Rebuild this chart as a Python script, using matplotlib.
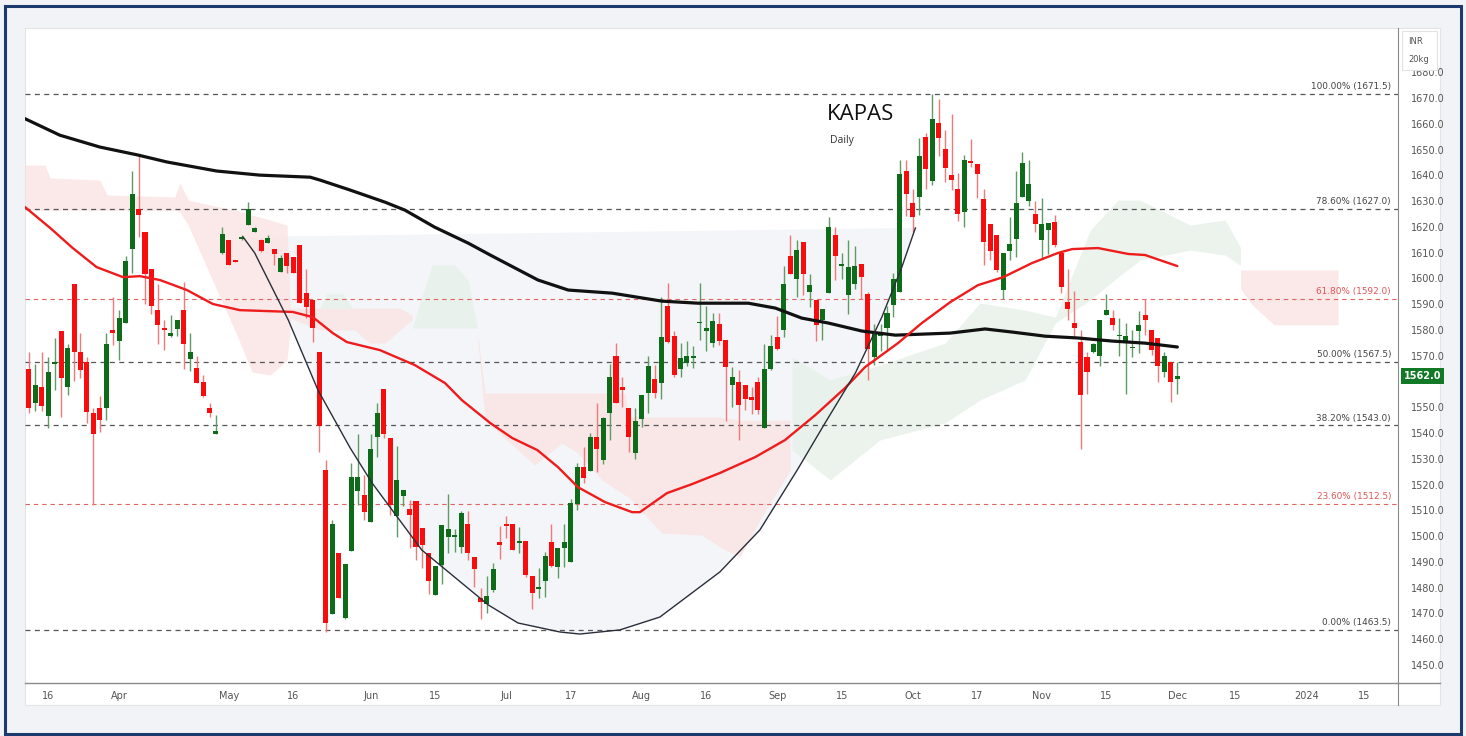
import numpy as np
import matplotlib
matplotlib.use("Agg")
import matplotlib.pyplot as plt
from matplotlib.patches import Rectangle
from matplotlib.lines import Line2D

# ---------------- data ----------------
opens = [1564.7, 1551.5, 1557.7, 1546.7, 1566.9, 1579.8, 1557.7, 1598.0, 1571.6, 1567.4,
         1547.7, 1549.9, 1549.8, 1579.9, 1575.8, 1582.6, 1611.6, 1626.9, 1618.0, 1603.7,
         1587.7, 1580.6, 1577.6, 1580.2, 1587.7, 1568.9, 1565.3, 1559.9, 1549.9, 1539.8,
         1609.7, 1614.9, 1607.0, 1615.5, 1620.8, 1618.0, 1614.9, 1613.9, 1611.3, 1602.6,
         1609.7, 1608.2, 1612.9, 1594.4, 1591.6, 1571.5, 1525.6, 1469.6, 1493.3, 1468.4,
         1494.2, 1517.5, 1515.9, 1505.6, 1538.5, 1557.2, 1537.9, 1507.7, 1515.5, 1510.7,
         1513.6, 1503.0, 1493.5, 1477.3, 1488.7, 1499.7, 1499.7, 1495.6, 1504.9, 1492.0,
         1475.8, 1473.8, 1479.1, 1497.6, 1504.9, 1504.9, 1497.4, 1498.2, 1484.6, 1479.4,
         1482.7, 1497.6, 1487.9, 1495.5, 1490.1, 1512.4, 1526.9, 1525.4, 1538.6, 1529.5,
         1547.6, 1569.9, 1557.7, 1549.8, 1532.4, 1545.3, 1555.7, 1560.8, 1559.3, 1589.3,
         1577.7, 1564.7, 1567.1, 1569.2, 1582.6, 1579.7, 1574.8, 1582.3, 1576.0, 1558.6,
         1559.9, 1558.6, 1554.0, 1559.9, 1541.8, 1564.7, 1577.3, 1579.9, 1608.8, 1599.6,
         1614.2, 1594.8, 1591.8, 1583.8, 1594.4, 1616.8, 1604.8, 1593.5, 1598.0, 1605.8,
         1593.8, 1569.6, 1577.6, 1580.6, 1589.6, 1594.8, 1641.8, 1629.4, 1631.7, 1655.0,
         1637.9, 1660.4, 1650.1, 1640.1, 1634.9, 1625.6, 1645.7, 1644.6, 1631.0, 1621.3,
         1616.8, 1595.7, 1610.7, 1615.5, 1631.7, 1630.0, 1625.0, 1614.9, 1618.7, 1622.0,
         1609.7, 1590.7, 1582.8, 1575.4, 1569.6, 1571.5, 1570.0, 1585.8, 1584.8, 1577.6,
         1575.4, 1572.9, 1579.7, 1585.8, 1579.9, 1576.7, 1563.8, 1567.6, 1561.0]
highs = [1571.5, 1566.7, 1571.5, 1569.6, 1576.7, 1579.8, 1574.4, 1598.0, 1578.9, 1569.6,
         1549.8, 1554.3, 1578.9, 1592.9, 1587.7, 1608.7, 1641.8, 1647.9, 1618.0, 1603.7,
         1598.0, 1583.8, 1586.0, 1583.8, 1598.7, 1578.9, 1569.8, 1562.5, 1551.8, 1546.9,
         1619.8, 1614.9, 1607.3, 1616.7, 1629.5, 1619.8, 1615.5, 1616.8, 1611.3, 1609.1,
         1610.0, 1608.5, 1612.9, 1603.5, 1591.6, 1571.5, 1529.7, 1506.2, 1493.3, 1489.3,
         1528.2, 1539.8, 1523.7, 1539.8, 1551.7, 1557.2, 1537.9, 1534.9, 1517.8, 1513.9,
         1513.6, 1503.0, 1493.5, 1488.5, 1504.5, 1516.5, 1502.6, 1509.8, 1509.8, 1492.0,
         1479.7, 1484.5, 1489.4, 1504.0, 1507.8, 1504.9, 1503.6, 1498.2, 1484.6, 1487.5,
         1493.9, 1504.9, 1495.2, 1504.9, 1514.6, 1528.2, 1534.7, 1539.9, 1551.8, 1546.4,
         1566.8, 1574.8, 1561.9, 1549.8, 1549.8, 1554.8, 1569.9, 1566.4, 1592.9, 1598.1,
         1579.7, 1574.8, 1575.8, 1573.8, 1598.1, 1589.3, 1586.5, 1586.7, 1576.0, 1565.7,
         1564.4, 1558.6, 1557.9, 1561.8, 1574.5, 1578.0, 1585.5, 1604.9, 1616.8, 1614.9,
         1614.2, 1601.9, 1591.8, 1588.3, 1623.9, 1620.0, 1609.7, 1614.9, 1612.5, 1605.8,
         1594.8, 1582.5, 1582.5, 1589.2, 1602.2, 1645.9, 1645.9, 1634.8, 1654.7, 1656.3,
         1671.5, 1669.5, 1657.8, 1664.0, 1641.0, 1647.9, 1654.0, 1644.6, 1634.9, 1621.3,
         1616.8, 1609.7, 1623.9, 1641.7, 1649.0, 1645.9, 1630.0, 1631.3, 1621.7, 1624.6,
         1610.3, 1603.6, 1595.1, 1579.9, 1571.3, 1575.0, 1583.8, 1593.9, 1587.7, 1584.5,
         1582.8, 1579.9, 1587.4, 1592.1, 1579.9, 1576.7, 1571.5, 1567.6, 1567.6]
lows = [1547.9, 1548.5, 1548.5, 1542.1, 1556.9, 1546.3, 1554.9, 1560.1, 1561.5, 1544.0,
        1512.0, 1540.5, 1545.0, 1574.1, 1568.5, 1582.6, 1602.1, 1616.2, 1590.0, 1586.1,
        1574.7, 1572.4, 1577.3, 1577.7, 1565.0, 1564.1, 1559.6, 1554.0, 1546.3, 1539.8,
        1609.4, 1605.2, 1606.3, 1615.1, 1620.8, 1618.0, 1610.4, 1613.9, 1605.2, 1602.6,
        1602.2, 1602.0, 1590.6, 1584.5, 1575.4, 1532.5, 1462.9, 1469.6, 1475.8, 1468.0,
        1494.2, 1512.0, 1506.2, 1505.6, 1530.8, 1537.9, 1508.1, 1499.7, 1511.6, 1495.2,
        1490.7, 1487.7, 1477.7, 1477.3, 1481.6, 1493.3, 1493.9, 1493.3, 1490.7, 1480.1,
        1468.0, 1470.0, 1478.4, 1491.0, 1499.1, 1494.6, 1493.6, 1484.2, 1471.9, 1475.8,
        1476.2, 1487.9, 1483.8, 1487.9, 1490.1, 1510.1, 1520.5, 1525.4, 1525.0, 1528.0,
        1537.5, 1551.5, 1550.2, 1532.8, 1529.8, 1542.5, 1547.9, 1553.5, 1553.1, 1574.8,
        1561.9, 1561.9, 1566.0, 1565.1, 1576.1, 1572.0, 1573.5, 1574.0, 1544.7, 1550.2,
        1537.5, 1548.9, 1547.3, 1547.3, 1541.8, 1564.4, 1572.2, 1577.1, 1601.7, 1592.9,
        1593.5, 1589.0, 1575.8, 1576.0, 1594.4, 1599.3, 1599.6, 1586.1, 1596.1, 1592.2,
        1560.5, 1566.3, 1571.9, 1572.2, 1585.1, 1594.8, 1624.3, 1618.1, 1624.6, 1634.9,
        1636.2, 1647.5, 1637.5, 1634.3, 1622.4, 1620.0, 1643.1, 1631.4, 1605.2, 1607.1,
        1602.6, 1592.2, 1607.1, 1608.4, 1631.7, 1628.1, 1618.1, 1607.8, 1609.3, 1612.3,
        1594.2, 1583.8, 1577.3, 1534.0, 1555.1, 1570.9, 1566.2, 1585.8, 1579.9, 1570.0,
        1555.1, 1569.6, 1570.9, 1578.0, 1570.2, 1559.9, 1561.8, 1552.1, 1555.1]
closes = [1549.8, 1558.6, 1550.4, 1563.7, 1567.6, 1561.4, 1572.9, 1571.5, 1564.5, 1548.2,
          1539.7, 1545.1, 1574.7, 1578.8, 1584.8, 1606.7, 1632.8, 1624.7, 1601.9, 1589.5,
          1582.1, 1579.9, 1578.9, 1583.8, 1574.5, 1571.5, 1559.6, 1554.3, 1547.6, 1540.7,
          1617.2, 1605.2, 1606.5, 1616.0, 1626.9, 1619.6, 1610.7, 1615.8, 1609.5, 1607.8,
          1604.8, 1602.2, 1590.6, 1588.8, 1580.9, 1542.7, 1466.1, 1504.9, 1475.8, 1489.1,
          1522.8, 1522.8, 1509.4, 1534.0, 1547.9, 1539.8, 1512.0, 1521.7, 1517.8, 1508.1,
          1495.6, 1496.5, 1482.6, 1488.5, 1504.5, 1502.6, 1500.6, 1509.0, 1493.3, 1487.4,
          1474.5, 1476.7, 1487.3, 1496.4, 1503.9, 1494.6, 1498.1, 1485.1, 1477.8, 1480.4,
          1492.3, 1488.5, 1495.2, 1497.6, 1512.7, 1526.9, 1522.4, 1538.3, 1533.7, 1545.7,
          1561.9, 1551.5, 1556.7, 1538.6, 1544.7, 1554.8, 1566.0, 1555.7, 1577.4, 1575.5,
          1562.5, 1569.2, 1569.9, 1569.9, 1583.2, 1580.6, 1583.5, 1575.8, 1565.7, 1561.8,
          1550.8, 1553.4, 1552.8, 1549.1, 1564.8, 1573.7, 1572.8, 1598.0, 1601.7, 1611.0,
          1601.9, 1597.4, 1581.9, 1588.3, 1619.8, 1608.8, 1605.8, 1604.5, 1604.8, 1600.6,
          1572.8, 1578.6, 1578.6, 1586.7, 1599.6, 1640.7, 1632.7, 1623.9, 1647.6, 1642.3,
          1661.7, 1654.7, 1643.0, 1638.4, 1625.0, 1645.9, 1644.9, 1640.7, 1614.2, 1610.7,
          1603.2, 1609.7, 1613.3, 1629.4, 1644.9, 1636.5, 1621.3, 1621.1, 1621.7, 1612.9,
          1596.8, 1588.1, 1580.6, 1554.7, 1563.8, 1574.4, 1583.8, 1587.7, 1581.9, 1577.9,
          1577.6, 1573.2, 1581.9, 1583.8, 1572.2, 1566.0, 1569.8, 1559.9, 1562.0]

# long moving average (black): bar index, price
ma_long_bars = [-0.6, 4.8, 11.0, 16.9, 21.4, 29.1, 35.8, 43.6, 45.1, 49.8, 55.2, 58.3,
                62.9, 68.1, 71.5, 78.9, 83.6, 90.4, 98.1, 103.7, 111.5, 115.7, 119.8,
                123.9, 129.1, 134.3, 142.8, 148.2, 152.4, 157.5, 162.6, 167.9, 173.0, 178.0]
ma_long_vals = [1662.0, 1655.6, 1651.0, 1647.9, 1645.2, 1641.7, 1640.1, 1639.3, 1638.2,
                1634.3, 1629.6, 1626.5, 1619.9, 1613.7, 1609.1, 1599.4, 1595.5, 1594.3,
                1591.2, 1590.4, 1590.4, 1588.5, 1584.6, 1582.7, 1579.6, 1578.0, 1578.8,
                1580.4, 1579.2, 1577.6, 1576.9, 1575.7, 1574.9, 1573.4]
# shorter moving average (red)
ma_short_bars = [-0.6, 3.3, 6.8, 10.5, 14.6, 17.2, 20.3, 24.5, 28.5, 32.7, 40.9, 44.0,
                 47.1, 49.3, 54.4, 59.8, 64.5, 67.1, 71.5, 74.9, 78.8, 82.0, 85.1, 89.3,
                 93.5, 94.7, 98.9, 102.8, 107.1, 112.6, 117.2, 121.9, 126.5, 129.6, 134.7,
                 138.4, 142.8, 147.1, 151.0, 155.5, 159.5, 161.7, 165.7, 170.4, 173.0, 178.0]
ma_short_vals = [1627.7, 1619.6, 1611.8, 1604.4, 1600.5, 1600.9, 1599.4, 1595.5, 1590.1,
                 1587.7, 1587.0, 1585.0, 1578.8, 1575.3, 1572.2, 1566.4, 1559.4, 1552.8,
                 1543.9, 1538.1, 1533.4, 1526.8, 1519.0, 1513.2, 1509.3, 1509.3, 1516.7,
                 1520.2, 1524.5, 1530.7, 1537.3, 1547.0, 1557.5, 1565.6, 1574.9, 1582.7,
                 1590.8, 1597.4, 1600.5, 1606.0, 1609.9, 1611.4, 1611.8, 1609.5, 1609.1, 1604.8]

# ichimoku-style cloud pieces (bar, upper, lower, colour key)
cloud_pieces = [
    ("bear", [-0.6, 2.5, 3.3, 11.0, 12.1, 22.6, 23.4, 24.7, 28.1, 31.9, 34.6, 37.4, 40.0, 40.5],
             [1644.0, 1644.0, 1639.0, 1638.2, 1632.4, 1631.6, 1637.0, 1630.4, 1628.5, 1626.5, 1624.6, 1622.7, 1620.7, 1589.7],
             [1626.5, 1626.5, 1626.5, 1626.5, 1626.5, 1626.5, 1625.8, 1620.7, 1601.3, 1580.0, 1563.7, 1562.5, 1568.3, 1580.0]),
    ("bear", [40.5, 45.1, 50.5, 52.9, 55.2, 57.5, 59.4],
             [1588.5, 1588.5, 1588.5, 1588.5, 1588.5, 1588.5, 1585.8],
             [1584.6, 1580.0, 1580.0, 1574.9, 1574.9, 1580.0, 1583.9]),
    ("bull", [45.1, 46.2, 48.7, 50.2],
             [1588.4, 1594.2, 1594.2, 1588.4],
             [1588.4, 1588.4, 1588.4, 1588.4]),
    ("bull", [59.4, 62.5, 66.0, 68.1, 69.5],
             [1580.8, 1605.2, 1605.2, 1599.4, 1580.8],
             [1580.8, 1580.8, 1580.8, 1580.8, 1580.8]),
    ("bear", [69.6, 70.7, 78.4, 82.6, 85.1, 88.8, 92.4, 92.9, 98.1, 104.3, 107.1, 110.2, 113.3, 118.0],
             [1578.0, 1555.5, 1555.5, 1555.5, 1555.5, 1555.5, 1555.5, 1546.2, 1546.2, 1546.2, 1546.2, 1545.0, 1545.0, 1545.0],
             [1575.0, 1545.0, 1527.6, 1536.1, 1532.3, 1521.8, 1515.9, 1515.2, 1501.2, 1500.4, 1495.8, 1491.9, 1506.3, 1525.7]),
    ("bull", [118.3, 124.2, 131.9, 142.0, 147.4, 154.4, 159.1, 164.5, 168.8, 172.2, 180.0, 185.4, 187.8],
             [1569.5, 1560.6, 1566.4, 1574.9, 1590.5, 1587.7, 1585.0, 1618.8, 1630.4, 1630.4, 1620.7, 1622.7, 1612.0],
             [1533.4, 1521.8, 1537.3, 1543.9, 1552.8, 1560.6, 1582.7, 1591.6, 1600.5, 1607.1, 1611.0, 1609.1, 1605.0]),
    ("bear", [187.8, 189.5, 193.0, 196.5, 202.9],
             [1603.3, 1603.3, 1603.3, 1603.3, 1603.3],
             [1596.0, 1590.0, 1582.0, 1582.0, 1582.0]),
]

# cup arc drawing (bar, price)
arc_bars = [33.2, 35.0, 40.2, 44.8, 49.8, 53.2, 60.9, 71.2, 75.8, 82.3, 85.4, 91.6, 97.8,
            107.1, 113.3, 119.1, 123.4, 128.1, 132.2, 135.3, 137.4]
arc_vals = [1616.1, 1609.9, 1583.9, 1556.7, 1534.2, 1520.6, 1494.6, 1473.3, 1466.3, 1462.8,
            1462.0, 1463.6, 1468.6, 1486.1, 1502.4, 1525.7, 1543.9, 1563.3, 1585.0, 1604.4, 1619.6]

fib_levels = [1671.5, 1627.0, 1592.0, 1567.5, 1543.0, 1512.5, 1463.5]
fib_pcts = ["100.00%", "78.60%", "61.80%", "50.00%", "38.20%", "23.60%", "0.00%"]
fib_red = [False, False, True, False, False, True, False]

xtick_bars = [3, 14, 31, 41, 53, 63, 74, 84, 95, 105, 116, 126, 137, 147, 157, 167, 178, 187, 198, 207]
xtick_labels = ["16", "Apr", "May", "16", "Jun", "15", "Jul", "17", "Aug", "16",
                "Sep", "15", "Oct", "17", "Nov", "15", "Dec", "15", "2024", "15"]
ytick_vals = list(range(1450, 1690, 10))
last_price = 1562.0

# ---------------- figure ----------------
W, H = 1466, 736
fig = plt.figure(figsize=(W / 100, H / 100), dpi=100)
fig.patch.set_facecolor("#f2f3f6")

def fx(px):
    return px / W

def fy(py):
    return 1 - py / H

fig.add_artist(Rectangle((fx(25), fy(705)), fx(1440) - fx(25), fy(28) - fy(705),
                         transform=fig.transFigure, facecolor="white",
                         edgecolor="#e4e4e4", lw=0.8, zorder=0))
fig.add_artist(Rectangle((fx(5), fy(734)), fx(1461) - fx(5), fy(6) - fy(734),
                         transform=fig.transFigure, fill=False,
                         edgecolor="#1c3a6c", lw=2.2, zorder=10))

ax = fig.add_axes([fx(25), fy(683), fx(1398) - fx(25), fy(28) - fy(683)])
ax.set_facecolor("none")
ax.set_xlim(-0.6, 212.2)
ax.set_ylim(1443.0, 1697.2)

GREEN = "#0d6b1a"
RED = "#f70d0d"

# cup fill and cloud
ax.fill(arc_bars, arc_vals, color="#f3f5f8", lw=0, zorder=1)
for kind, cb, cu, cl in cloud_pieces:
    col = "#fbe3e3" if kind == "bear" else "#e6f1e8"
    ax.fill_between(cb, cl, cu, color=col, alpha=0.8, lw=0, zorder=2)

# fib lines
for lvl, pct, isred in zip(fib_levels, fib_pcts, fib_red):
    col = "#e06666" if isred else "#555555"
    ax.axhline(lvl, color=col, lw=0.9 if not isred else 0.8, ls=(0, (4, 3.5)), zorder=3)
    ax.annotate(f"{pct} ({lvl:.1f})", xy=(1, lvl), xycoords=("axes fraction", "data"),
                xytext=(-5, 2), textcoords="offset points", ha="right", va="bottom",
                fontsize=6.4, color="#e05555" if isred else "#444444",
                family="DejaVu Sans", zorder=7)

# candles
x = np.arange(len(opens))
o = np.array(opens); h = np.array(highs); l = np.array(lows); c = np.array(closes)
up = c >= o
body_col = np.where(up, GREEN, RED)
wick_col = np.where(up, "#5e9c66", "#f07a7a")
ax.vlines(x, l, h, colors=wick_col, lw=1.0, zorder=4)
bottom = np.minimum(o, c)
height = np.maximum(np.abs(c - o), 0.6)
ax.bar(x, height, bottom=bottom, width=0.78, color=body_col, lw=0, zorder=5)

# moving averages and arc
ax.plot(ma_long_bars, ma_long_vals, color="#111111", lw=2.3, zorder=6, solid_capstyle="round")
ax.plot(ma_short_bars, ma_short_vals, color="#ee1c1c", lw=1.7, zorder=6, solid_capstyle="round")
ax.plot(arc_bars, arc_vals, color="#2a2e39", lw=1.0, zorder=6)

# axes styling
for s in ["top", "left"]:
    ax.spines[s].set_visible(False)
ax.spines["bottom"].set_color("#8a8a8a")
ax.spines["bottom"].set_linewidth(1.0)
ax.spines["right"].set_color("#8a8a8a")
ax.spines["right"].set_linewidth(0.8)
ax.yaxis.tick_right()
ax.set_yticks(ytick_vals)
# the 1560.0 label sits under the last-price tag in the reference
ax.set_yticklabels(["" if abs(v - last_price) < 5 else f"{v:.1f}" for v in ytick_vals])
ax.tick_params(axis="y", length=0, pad=9, labelsize=7, labelcolor="#555555")
ax.set_xticks(xtick_bars)
ax.set_xticklabels(xtick_labels)
ax.tick_params(axis="x", length=0, pad=6, labelsize=7, labelcolor="#555555")
for t in ax.get_xticklabels() + ax.get_yticklabels():
    t.set_family(["Liberation Sans Narrow", "DejaVu Sans"])

# extend axis lines like the reference
fig.add_artist(Line2D([fx(1398), fx(1398)], [fy(683), fy(705)], transform=fig.transFigure,
                      color="#8a8a8a", lw=0.8, zorder=3))
fig.add_artist(Line2D([fx(1398), fx(1440)], [fy(683), fy(683)], transform=fig.transFigure,
                      color="#8a8a8a", lw=1.0, zorder=3))

# last-price tag
ax.annotate(f"{last_price:.1f}", xy=(1, last_price), xycoords=("axes fraction", "data"),
            xytext=(4, 0), textcoords="offset points", ha="left", va="center",
            fontsize=7, color="white", fontweight="bold",
            family=["Liberation Sans Narrow", "DejaVu Sans"],
            bbox=dict(boxstyle="square,pad=0.3", fc="#127a26", ec="none"),
            annotation_clip=False, zorder=8)

# unit box (covers most of the top 1680.0 label, as in the reference)
fig.add_artist(Rectangle((fx(1402), fy(70)), fx(1437) - fx(1402), fy(31) - fy(70),
                         transform=fig.transFigure, facecolor="white",
                         edgecolor="#e2e2e2", lw=0.8, zorder=9))
fig.text(fx(1408), fy(42), "INR", fontsize=6, color="#555555", va="center", zorder=11,
         family=["Liberation Sans Narrow", "DejaVu Sans"])
fig.text(fx(1408), fy(60), "20kg", fontsize=6, color="#555555", va="center", zorder=11,
         family=["Liberation Sans Narrow", "DejaVu Sans"])

# title
fig.text(fx(827), fy(114), "KAPAS", fontsize=16, color="#111111", va="center",
         family=["Open Sans", "DejaVu Sans"], zorder=11)
fig.text(fx(830), fy(140), "Daily", fontsize=7.5, color="#333333", va="center",
         family=["Open Sans", "DejaVu Sans"], zorder=11)

fig.savefig("out.png", dpi=100, facecolor=fig.get_facecolor())
